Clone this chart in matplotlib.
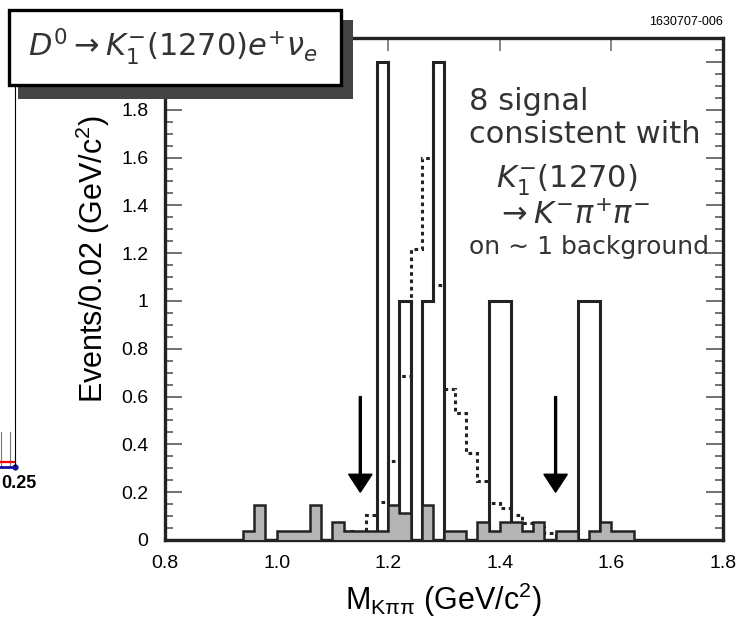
import numpy as np
import matplotlib.pyplot as plt
from matplotlib.patches import Rectangle
from matplotlib.lines import Line2D

plt.rcParams['font.family'] = ['Liberation Sans', 'DejaVu Sans']
plt.rcParams['mathtext.fontset'] = 'dejavusans'

# histogram binning: 0.02 GeV bins from 0.8 to 1.8
bin_lo_edge = 0.80
bin_hi_edge = 1.80
bin_width = 0.02

# signal candidates (open histogram), lower bin edge -> events
signal_lo = [1.18, 1.22, 1.26, 1.28, 1.38, 1.40, 1.54, 1.56]
signal_n = [2, 1, 1, 2, 1, 1, 1, 1]

# background estimate (grey filled histogram)
bkg_lo = [0.94, 0.96, 1.00, 1.02, 1.04, 1.06, 1.10, 1.12, 1.14, 1.16, 1.18,
          1.20, 1.22, 1.26, 1.30, 1.32, 1.36, 1.38, 1.40, 1.42, 1.44, 1.46,
          1.50, 1.52, 1.56, 1.58, 1.60, 1.62]
bkg_n = [0.037, 0.148, 0.037, 0.037, 0.037, 0.148, 0.074, 0.037, 0.037, 0.037, 0.037,
         0.148, 0.111, 0.148, 0.037, 0.037, 0.074, 0.037, 0.074, 0.074, 0.037, 0.074,
         0.037, 0.037, 0.037, 0.074, 0.037, 0.037]

# signal MC shape (dotted histogram)
mc_lo = [1.02, 1.04, 1.06, 1.10, 1.12, 1.14, 1.16, 1.18, 1.20, 1.22, 1.24, 1.26,
         1.28, 1.30, 1.32, 1.34, 1.36, 1.38, 1.40, 1.42, 1.44, 1.46, 1.48, 1.50, 1.52]
mc_n = [0.008, 0.008, 0.008, 0.015, 0.039, 0.025, 0.105, 0.16, 0.33, 0.685, 1.216, 1.60,
        1.065, 0.63, 0.53, 0.364, 0.245, 0.154, 0.135, 0.105, 0.07, 0.056, 0.028, 0.017, 0.017]

# signal window cuts
cut_x = [1.15, 1.50]

x_ticks = [0.8, 1.0, 1.2, 1.4, 1.6, 1.8]
x_labels = ['0.8', '1.0', '1.2', '1.4', '1.6', '1.8']
y_ticks = [0, 0.2, 0.4, 0.6, 0.8, 1.0, 1.2, 1.4, 1.6, 1.8, 2.0]
y_labels = ['0', '0.2', '0.4', '0.6', '0.8', '1', '1.2', '1.4', '1.6', '1.8', '']

W, H = 740, 621


def px(x, y):
    # pixel (from top-left) -> figure fraction
    return x / W, 1 - y / H


def fill_bins(lo, n, edges):
    vals = np.zeros(len(edges) - 1)
    for l, v in zip(lo, n):
        vals[int(round((l - edges[0]) / bin_width))] = v
    return vals


edges = np.linspace(bin_lo_edge, bin_hi_edge, int(round((bin_hi_edge - bin_lo_edge) / bin_width)) + 1)
sig = fill_bins(signal_lo, signal_n, edges)
bkg = fill_bins(bkg_lo, bkg_n, edges)
mc = fill_bins(mc_lo, mc_n, edges)

fig = plt.figure(figsize=(7.4, 6.21), dpi=100)
ax = fig.add_axes([165 / W, 1 - 540 / H, (723 - 165) / W, (540 - 38) / H])

ink = '#222222'
ax.stairs(mc, edges, color=ink, lw=2.2, ls=(0, (1.2, 1.2)), zorder=2)
ax.stairs(sig, edges, color=ink, lw=2.2, zorder=3)
ax.stairs(bkg, edges, fill=True, color='#b4b4b4', zorder=4)
ax.stairs(bkg, edges, color=ink, lw=1.8, zorder=5)

for cx in cut_x:
    ax.arrow(cx, 0.6, 0, -0.4, width=0.0035, head_width=0.042, head_length=0.075,
             length_includes_head=True, color='black', zorder=6)

ax.set_xlim(0.8, 1.8)
ax.set_ylim(0, 2.1)
ax.set_xticks(x_ticks)
ax.set_xticklabels(x_labels)
ax.set_yticks(y_ticks)
ax.set_yticklabels(y_labels)
ax.set_yticks(np.arange(0, 2.1, 0.05), minor=True)

ax.tick_params(axis='y', which='both', direction='in', left=True, right=True,
               color='#666666', labelsize=14, pad=12)
ax.tick_params(axis='y', which='major', length=12, width=1.3)
ax.tick_params(axis='y', which='minor', length=6, width=1.3)
ax.tick_params(axis='x', which='both', direction='in', top=True, bottom=False,
               length=9, width=1.1, color='#666666', labelsize=14, pad=11)
for s in ax.spines.values():
    s.set_linewidth(2.4)
    s.set_color(ink)

ax.set_ylabel('Events/0.02 (GeV/c$^{\\mathregular{2}}$)', fontsize=22, va='center')
ax.yaxis.set_label_coords(-0.13, 0.56)
ax.set_xlabel('M$_{\\mathregular{Kππ}}$ (GeV/c$^{\\mathregular{2}}$)', fontsize=22, va='center')
ax.xaxis.set_label_coords(0.5, -0.12)

txt = '#333333'
dv = 'DejaVu Sans'
fig.text(*px(469, 110), '8 signal', fontsize=22, color=txt, family=dv, va='baseline')
fig.text(*px(469, 143), 'consistent with', fontsize=22, color=txt, family=dv, va='baseline')
fig.text(*px(496, 188), r'$K_1^{-}(1270)$', fontsize=22, color=txt, family=dv, va='baseline')
fig.text(*px(496, 224), r'$\rightarrow K^{-}\pi^{+}\pi^{-}$', fontsize=22, color=txt, family=dv, va='baseline')
fig.text(*px(469, 254), 'on ∼ 1 background', fontsize=18, color=txt, family=dv, va='baseline')

fig.text(*px(723, 22), '1630707-006', fontsize=9, ha='right', va='center')

# title box with drop shadow
fig.add_artist(Rectangle(px(18, 99), 335 / W, 79 / H, transform=fig.transFigure,
                         facecolor='#444444', edgecolor='none', zorder=5))
fig.add_artist(Rectangle(px(9, 85), 332 / W, 75 / H, transform=fig.transFigure,
                         facecolor='white', edgecolor='black', lw=2.4, zorder=6))
fig.text(*px(28, 56), r'$D^0 \rightarrow K_1^{-}(1270)e^{+}\nu_e$', fontsize=22,
         color=txt, family=dv, va='baseline', zorder=7)

# edge of the neighbouring panel cut off at the left
fig.add_artist(Line2D([15 / W, 15 / W], [1 - 466 / H, 1 - 60 / H], color='black', lw=0.8, zorder=4))
for ex in [1, 10]:
    fig.add_artist(Line2D([ex / W, ex / W], [1 - 466 / H, 1 - 432 / H], color='#777777', lw=0.8))
fig.add_artist(Line2D([0, 15 / W], [1 - 462 / H, 1 - 462 / H], color='red', lw=1.6))
fig.add_artist(Line2D([0, 15 / W], [1 - 467 / H, 1 - 467 / H], color='#1010a0', lw=2.0,
                      marker='o', markersize=3.5, markevery=[1]))
fig.text(1 / W, 1 - 483 / H, '0.25', fontsize=13, fontweight='bold', ha='left', va='center')

fig.savefig('out.png', dpi=100)
